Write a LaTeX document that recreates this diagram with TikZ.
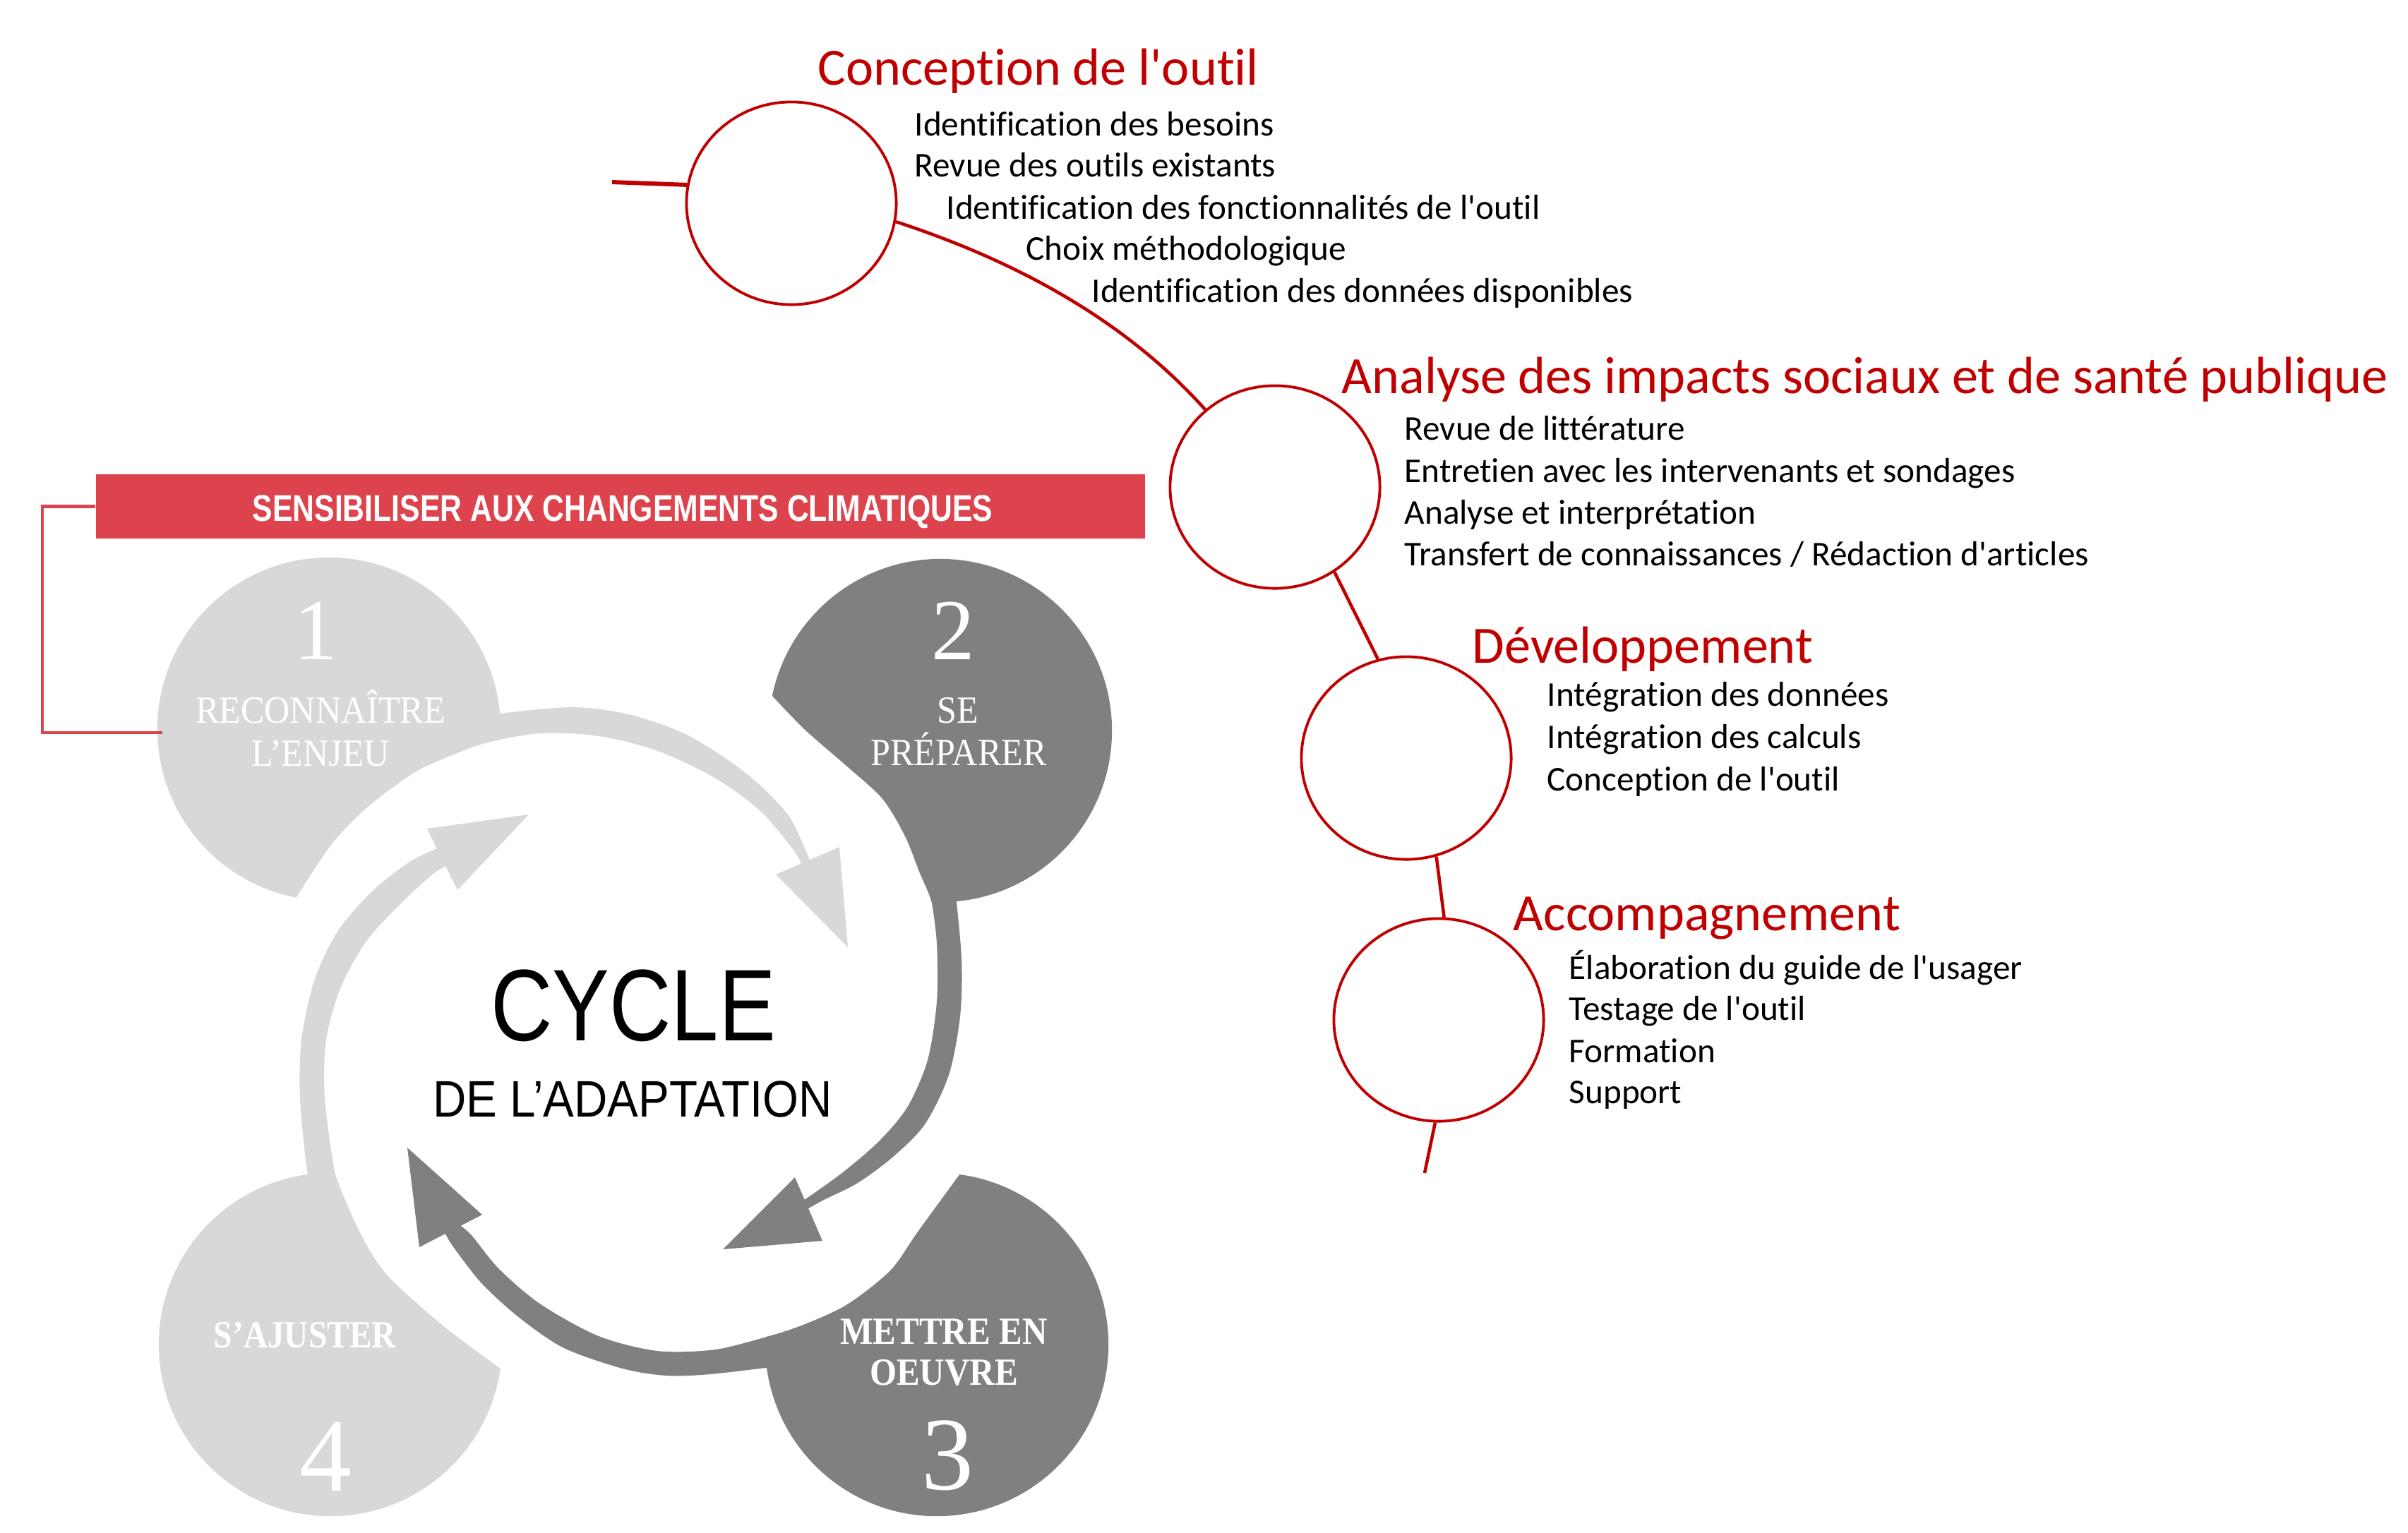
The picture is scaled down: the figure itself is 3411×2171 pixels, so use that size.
\documentclass[tikz,border=0pt]{standalone}
\usepackage{fontspec}
\usepackage{graphicx}
\usetikzlibrary{shapes.geometric}
\newfontfamily\calfont[Ligatures=CommonOff]{Carlito}
\newfontfamily\serfont{Liberation Serif}
\newfontfamily\arfont{Liberation Sans}
\definecolor{lightg}{RGB}{216,216,216}
\definecolor{darkg}{RGB}{128,128,128}
\definecolor{bannerred}{RGB}{221,67,76}
\definecolor{titlered}{RGB}{192,0,0}
\begin{document}
\begin{tikzpicture}[x=0.01cm,y=-0.01cm,
  ttl/.style={anchor=base west, inner sep=0, text=titlered, font=\calfont\fontsize{21.1}{25}\selectfont},
  itm/.style={anchor=base west, inner sep=0, font=\calfont\fontsize{14}{17}\selectfont},
  stagecirc/.style={ellipse, draw=titlered, line width=1.1pt, minimum width=2.97cm, minimum height=2.87cm, inner sep=0},
  conn/.style={draw=titlered, line width=1.3pt},
  disc/.style={circle, minimum size=4.86cm, inner sep=0},
  lbl/.style={anchor=base, inner sep=0, text=white, font=\serfont\fontsize{15.5}{18}\selectfont},
  numtxt/.style={anchor=base, inner sep=0, text=white},
]
\useasboundingbox (0,0) rectangle (3411,2171);
\fill[white] (0,0) rectangle (3411,2171);

% ---------- cycle circles ----------
\node[disc, fill=lightg] (c1) at (466,1033) {};
\node[disc, fill=darkg]  (c2) at (1332,1035) {};
\node[disc, fill=darkg]  (c3) at (1327,1905) {};
\node[disc, fill=lightg] (c4) at (468,1905) {};

% white cuts
\fill[white] plot[smooth] coordinates {(417,1276) (470,1196) (525,1140) (600,1087) (683,1054) (766,1039) (849,1043)} -- (849,1300) -- (405,1300) -- cycle;
\fill[white] plot[smooth] coordinates {(1091,983) (1139,1033) (1201,1087) (1250,1132) (1282,1185) (1302,1235) (1320,1280) (1327,1337) (1328,1420)} -- (1060,1420) -- (1060,983) -- cycle;
\fill[white] plot[smooth] coordinates {(1362,1660) (1300,1745) (1261,1800) (1200,1848) (1140,1876) (1089,1893) (1014,1912) (931,1914)} -- (931,1640) -- (1362,1640) -- cycle;
\fill[white] plot[smooth] coordinates {(712,1941) (630,1880) (550,1808) (512,1750) (474,1660) (460,1577) (460,1500)} -- (770,1500) -- (770,1941) -- cycle;

% bands and arrowheads
\fill[lightg] plot[smooth] coordinates {(690,1013) (807,1002) (890,1012) (973,1041) (1056,1095) (1118,1157) (1152,1232)} -- plot[smooth] coordinates {(1140,1236) (1126,1207) (1077,1149) (1014,1103) (932,1064) (849,1043) (766,1039) (683,1054) (600,1087)} -- cycle;
\fill[lightg] (1099,1239) -- (1189,1200) -- (1201,1342) -- cycle;

\fill[darkg] plot[smooth] coordinates {(1352,1250) (1362,1357) (1360,1440) (1344,1523) (1310,1593) (1265,1639) (1215,1676) (1165,1701) (1135,1718)} -- plot[smooth] coordinates {(1132,1705) (1190,1664) (1244,1618) (1285,1569) (1314,1502) (1327,1419) (1327,1337) (1319,1274) (1310,1250)} -- cycle;
\fill[darkg] (1126,1668) -- (1165,1758) -- (1024,1770) -- cycle;

\fill[darkg] plot[smooth] coordinates {(1100,1936) (1006,1947) (944,1949) (882,1939) (799,1910) (737,1868) (683,1819) (641,1765) (628,1742)} -- plot[smooth] coordinates {(642,1730) (666,1748) (707,1798) (766,1848) (848,1893) (931,1914) (1014,1912) (1089,1893)} -- cycle;
\fill[darkg] (683,1721) -- (594,1767) -- (577,1626) -- cycle;

\fill[lightg] plot[smooth] coordinates {(447,1700) (435,1658) (425,1556) (427,1473) (445,1390) (478,1320) (528,1262) (582,1220) (624,1200)} -- plot[smooth] coordinates {(640,1224) (615,1237) (570,1278) (520,1332) (483,1398) (462,1473) (460,1556) (474,1660) (486,1700)} -- cycle;
\fill[lightg] (605,1174) -- (749,1154) -- (648,1261) -- cycle;

% circle labels
\node[numtxt, font=\serfont\fontsize{35}{40}\selectfont] (n1) at (447,934) {1};
\node[lbl] (l1a) at (454,1024) {\scalebox{0.92}[1]{RECONNAÎTRE}};
\node[lbl] (l1b) at (454,1085) {\scalebox{0.92}[1]{L’ENJEU}};
\node[numtxt, font=\serfont\fontsize{35}{40}\selectfont] (n2) at (1350,934) {2};
\node[lbl] (l2a) at (1357,1024) {\scalebox{0.92}[1]{SE}};
\node[lbl] (l2b) at (1358,1084) {\scalebox{0.92}[1]{PRÉPARER}};
\node[lbl, font=\serfont\bfseries\fontsize{15.5}{18}\selectfont] (l3a) at (1337,1904) {\scalebox{0.9}[1]{METTRE EN}};
\node[lbl, font=\serfont\bfseries\fontsize{15.5}{18}\selectfont] (l3b) at (1337,1962) {\scalebox{0.9}[1]{OEUVRE}};
\node[numtxt, font=\serfont\fontsize{42}{46}\selectfont] (n3) at (1342,2110) {3};
\node[lbl, font=\serfont\bfseries\fontsize{15.5}{18}\selectfont] (l4a) at (432,1909) {\scalebox{0.87}[1]{S’AJUSTER}};
\node[numtxt, font=\serfont\fontsize{42}{46}\selectfont] (n4) at (461,2112) {4};

% centre text
\node[anchor=base, inner sep=0, font=\arfont\fontsize{41}{45}\selectfont] (cyc) at (897,1474) {\scalebox{0.84}[1]{CYCLE}};
\node[anchor=base, inner sep=0, font=\arfont\fontsize{20.7}{24}\selectfont] (ada) at (896,1582) {\scalebox{0.9}[1]{DE L’ADAPTATION}};

% banner and bracket
\node[fill=bannerred, minimum width=14.86cm, minimum height=0.91cm, inner sep=0] (banner) at (879,717.5) {};
\node[anchor=base, inner sep=0, text=white, font=\arfont\bfseries\fontsize{15}{17}\selectfont] (bantxt) at (882,738) {\scalebox{0.81}[1]{SENSIBILISER AUX CHANGEMENTS CLIMATIQUES}};
\coordinate (brk) at (60,1038);
\coordinate (brkend) at (230,1038);
\draw[bannerred, line width=1.4pt] (banner.west) -| (brk) -- (brkend);

% ---------- right timeline ----------
\node[stagecirc] (A) at (1121,288) {};
\node[stagecirc] (B) at (1806,690) {};
\node[stagecirc] (C) at (1992,1074) {};
\node[stagecirc] (D) at (2038,1445) {};

\coordinate (lstart) at (867,258);
\coordinate (dend) at (2018,1662);
\draw[conn, line width=1.7pt] (lstart) -- (A.170);
\draw[conn] (A.-10) .. controls (1458,376) and (1603,464) .. (B.132);
\draw[conn] (B.-55) -- (C.106);
\draw[conn] (C.-73) -- (D.87);
\draw[conn] (D.-92) -- (dend);

\node[ttl] (tA) at (1158,120) {Conception de l'outil};
\node[itm] (iA1) at (1295,192) {Identification des besoins};
\node[itm] (iA2) at (1295,250) {Revue des outils existants};
\node[itm] (iA3) at (1340,310) {Identification des fonctionnalités de l'outil};
\node[itm] (iA4) at (1453,368) {Choix méthodologique};
\node[itm] (iA5) at (1546,428) {Identification des données disponibles};

\node[ttl] (tB) at (1900,557) {Analyse des impacts sociaux et de santé publique};
\node[itm] (iB1) at (1989,623) {Revue de littérature};
\node[itm] (iB2) at (1989,683) {Entretien avec les intervenants et sondages};
\node[itm] (iB3) at (1989,742) {Analyse et interprétation};
\node[itm] (iB4) at (1989,801) {Transfert de connaissances / Rédaction d'articles};

\node[ttl] (tC) at (2085,939) {Développement};
\node[itm] (iC1) at (2191,1000) {Intégration des données};
\node[itm] (iC2) at (2191,1060) {Intégration des calculs};
\node[itm] (iC3) at (2191,1120) {Conception de l'outil};

\node[ttl] (tD) at (2143,1318) {Accompagnement};
\node[itm] (iD1) at (2222,1387) {Élaboration du guide de l'usager};
\node[itm] (iD2) at (2222,1445) {Testage de l'outil};
\node[itm] (iD3) at (2222,1505) {Formation};
\node[itm] (iD4) at (2222,1563) {Support};
\end{tikzpicture}
\end{document}
